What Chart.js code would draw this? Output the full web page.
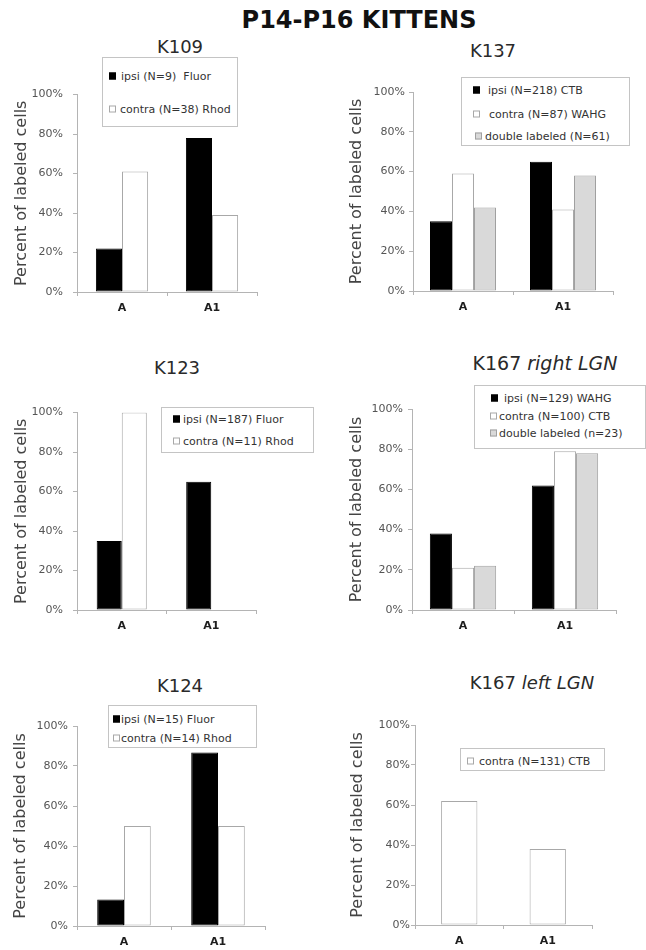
<!DOCTYPE html>
<html>
<head>
<meta charset="utf-8">
<title>P14-P16 Kittens</title>
<script src="https://cdn.jsdelivr.net/npm/chart.js@4/dist/chart.umd.min.js"></script>
<style>
  body { margin: 0; background: #fff; }
  #page { position: relative; width: 646px; height: 950px; overflow: hidden; font-family: "DejaVu Sans", sans-serif; }
  #page canvas { position: absolute; }
  .title { position: absolute; transform: translate(-50%, -50%); white-space: nowrap; line-height: 1; color: #2a2a2a; font-size: 18px; }
  .main-title { font-size: 24px; font-weight: bold; color: #111; }
  .legend { position: absolute; box-sizing: border-box; border: 1px solid #c4c4c4; background: #fff; }
  .swatch { position: absolute; box-sizing: border-box; width: 7px; height: 7px; border: 1px solid; transform: translateY(-50%); }
  .ltext { position: absolute; font-size: 11px; line-height: 1; color: #333; white-space: pre; transform: translateY(-50%); }
</style>
</head>
<body>
<div id="page">
  <div class="title main-title" style="left:359px; top:20px">P14-P16 KITTENS</div>
</div>
<script>
/* ── data (percent of labeled cells) ─────────────────────────── */

const categories = ['A', 'A1'];
const yTicks = [0, 20, 40, 60, 80, 100];

const k109Ipsi   = [22, 78];
const k109Contra = [61, 39];

const k137Ipsi   = [35, 65];
const k137Contra = [59, 41];
const k137Double = [42, 58];

const k123Ipsi   = [35, 65];
const k123Contra = [100, 0];

const k167rIpsi   = [38, 62];
const k167rContra = [21, 79];
const k167rDouble = [22, 78];

const k124Ipsi   = [13.3, 86.7];
const k124Contra = [50, 50];

const k167lContra = [62, 38];

/* ── styles ──────────────────────────────────────────────────── */

const FONT = '"DejaVu Sans", sans-serif';
const AXIS = '#b4b4b4';
const STYLE = {
  ipsi:   { bg: '#000000', border: '#000000' },
  contra: { bg: '#ffffff', border: '#a8a8a8' },
  double: { bg: '#d9d9d9', border: '#a0a0a0' },
};

/* plot rect = where 0%..100% and the two categories sit on the page */
const panels = [
  {
    title: 'K109', tx: 180, ty: 47,
    plot: { left: 77, right: 257, top: 90, bottom: 292 }, canvasLeft: 0, titlePad: 12, tickPad: 10, catPct: 0.58,
    series: [
      { kind: 'ipsi',   label: 'ipsi (N=9)  Fluor',   data: k109Ipsi },
      { kind: 'contra', label: 'contra (N=38) Rhod',  data: k109Contra },
    ],
    legend: { x: 102, y: 57, w: 136, h: 70, mx: [108, 108], tx: [120, 119], ry: [75, 108] },
  },
  {
    title: 'K137', tx: 493, ty: 51,
    plot: { left: 413, right: 613, top: 92, bottom: 291 }, canvasLeft: 330, titlePad: 17, tickPad: 4, catPct: 0.66,
    series: [
      { kind: 'ipsi',   label: 'ipsi (N=218) CTB',        data: k137Ipsi },
      { kind: 'contra', label: 'contra (N=87) WAHG',      data: k137Contra },
      { kind: 'double', label: 'double labeled (N=61)',   data: k137Double },
    ],
    legend: { x: 461, y: 77, w: 169, h: 69, mx: [472, 472, 474], tx: [487, 488, 484], ry: [89, 113, 135] },
  },
  {
    title: 'K123', tx: 177, ty: 368,
    plot: { left: 77, right: 256, top: 408, bottom: 610 }, canvasLeft: 0, titlePad: 12, tickPad: 10, catPct: 0.56,
    series: [
      { kind: 'ipsi',   label: 'ipsi (N=187) Fluor',  data: k123Ipsi },
      { kind: 'contra', label: 'contra (N=11) Rhod',  data: k123Contra },
    ],
    legend: { x: 161, y: 407, w: 153, h: 46, mx: [172, 172], tx: [182, 182], ry: [418, 440] },
  },
  {
    title: 'K167 <i>right LGN</i>', tx: 545, ty: 363, size: 19,
    plot: { left: 412, right: 616, top: 409, bottom: 610 }, canvasLeft: 330, titlePad: 17, tickPad: 5, catPct: 0.65,
    series: [
      { kind: 'ipsi',   label: 'ipsi (N=129) WAHG',       data: k167rIpsi },
      { kind: 'contra', label: 'contra (N=100) CTB',      data: k167rContra },
      { kind: 'double', label: 'double labeled (n=23)',   data: k167rDouble },
    ],
    legend: { x: 474, y: 385, w: 172, h: 64, mx: [490, 489, 489], tx: [503, 498, 498], ry: [397, 415, 432] },
  },
  {
    title: 'K124', tx: 180, ty: 686,
    plot: { left: 77, right: 265, top: 726, bottom: 926 }, canvasLeft: 0, titlePad: 11, tickPad: 5, catPct: 0.57,
    series: [
      { kind: 'ipsi',   label: 'ipsi (N=15) Fluor',   data: k124Ipsi },
      { kind: 'contra', label: 'contra (N=14) Rhod',  data: k124Contra },
    ],
    legend: { x: 108, y: 705, w: 149, h: 43, mx: [112, 112], tx: [120, 120], ry: [718, 737] },
  },
  {
    title: 'K167 <i>left LGN</i>', tx: 532, ty: 683,
    plot: { left: 415, right: 592, top: 725, bottom: 925 }, canvasLeft: 330, titlePad: 18, tickPad: 1, catPct: 0.41,
    series: [
      { kind: 'contra', label: 'contra (N=131) CTB',  data: k167lContra },
    ],
    legend: { x: 460, y: 748, w: 145, h: 23, mx: [466], tx: [478], ry: [760] },
  },
];

/* ── build ───────────────────────────────────────────────────── */

const page = document.getElementById('page');

function addTitle(p) {
  const t = document.createElement('div');
  t.className = 'title';
  t.style.left = p.tx + 'px';
  t.style.top = p.ty + 'px';
  if (p.size) t.style.fontSize = p.size + 'px';
  t.innerHTML = p.title;
  page.appendChild(t);
}

function addLegend(p) {
  const lg = p.legend;
  const box = document.createElement('div');
  box.className = 'legend';
  Object.assign(box.style, { left: lg.x + 'px', top: lg.y + 'px', width: lg.w + 'px', height: lg.h + 'px' });
  p.series.forEach((s, i) => {
    const sw = document.createElement('div');
    sw.className = 'swatch';
    Object.assign(sw.style, {
      left: (lg.mx[i] - lg.x) + 'px', top: (lg.ry[i] - lg.y) + 'px',
      background: STYLE[s.kind].bg, borderColor: STYLE[s.kind].border,
    });
    const tx = document.createElement('div');
    tx.className = 'ltext';
    Object.assign(tx.style, { left: (lg.tx[i] - lg.x) + 'px', top: (lg.ry[i] - lg.y) + 'px' });
    tx.textContent = s.label;
    box.appendChild(sw);
    box.appendChild(tx);
  });
  page.appendChild(box);
}

function addChart(p) {
  const padTop = 12, padRight = 4, xH = 30;
  const top = p.plot.top - padTop;
  const cv = document.createElement('canvas');
  cv.width = p.plot.right + padRight - p.canvasLeft;
  cv.height = p.plot.bottom - top + xH;
  cv.style.left = p.canvasLeft + 'px';
  cv.style.top = top + 'px';
  page.appendChild(cv);

  const yW = p.plot.left - p.canvasLeft;

  new Chart(cv, {
    type: 'bar',
    data: {
      labels: categories,
      datasets: p.series.map(s => ({
        label: s.label,
        data: s.data,
        backgroundColor: STYLE[s.kind].bg,
        borderColor: STYLE[s.kind].border,
        borderWidth: 1,
        borderSkipped: false,
        barPercentage: 1,
        categoryPercentage: p.catPct,
      })),
    },
    options: {
      responsive: false,
      animation: false,
      devicePixelRatio: 1,
      layout: { padding: { top: padTop, right: padRight, left: 0, bottom: 0 } },
      plugins: { legend: { display: false }, tooltip: { enabled: false }, title: { display: false } },
      scales: {
        x: {
          grid: { drawOnChartArea: false, drawTicks: true, tickLength: 4, color: AXIS },
          border: { color: AXIS },
          ticks: { color: '#1e1e1e', font: { family: FONT, size: 11, weight: 'bold' }, padding: 6, maxRotation: 0 },
          afterFit: s => { s.height = xH; },
        },
        y: {
          min: yTicks[0],
          max: yTicks[yTicks.length - 1],
          afterBuildTicks: s => { s.ticks = yTicks.map(v => ({ value: v })); },
          ticks: { color: '#555', font: { family: FONT, size: 11 }, padding: p.tickPad, callback: v => v + '%' },
          grid: { drawOnChartArea: false, drawTicks: true, tickLength: 4, color: AXIS },
          border: { color: AXIS },
          title: {
            display: true,
            text: 'Percent of labeled cells',
            color: '#444',
            font: { family: FONT, size: 16, lineHeight: 1.2 },
            padding: { top: p.titlePad, bottom: 0 },
          },
          afterFit: s => { s.width = yW; },
        },
      },
    },
  });
}

panels.forEach(p => {
  addChart(p);
  addTitle(p);
  addLegend(p);
});
</script>
</body>
</html>
